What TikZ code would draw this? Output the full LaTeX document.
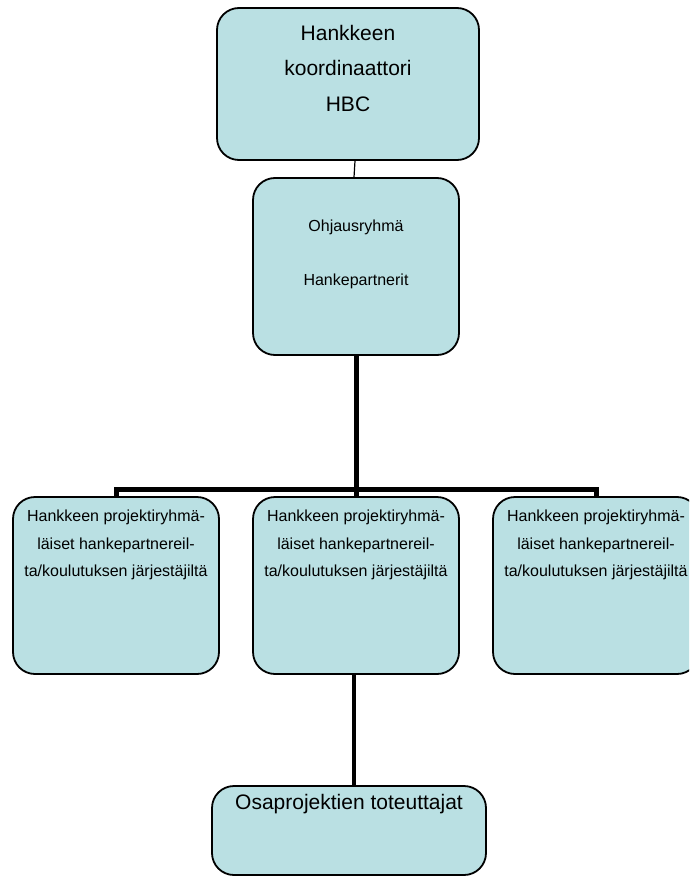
\documentclass[tikz,border=0pt]{standalone}
\usepackage{fontspec}
\setmainfont{Liberation Sans}
\definecolor{boxfill}{RGB}{186,224,227}
\begin{document}
\begin{tikzpicture}[x=1pt,y=-1pt,
  orgbox/.style={draw=black, line width=1.8pt, fill=boxfill, rounded corners=22pt, inner sep=0pt},
  bigtext/.style={align=center, font=\fontsize{21}{35.5}\selectfont},
  smalltext/.style={align=center, font=\fontsize{16}{27.5}\selectfont},
  busline/.style={line width=5pt, line join=miter},
  midline/.style={line width=3.5pt},
  thinline/.style={line width=1.2pt}]
\useasboundingbox (0,0) rectangle (689,877);
\clip (0,0) rectangle (689,877);

% boxes
\node[orgbox, minimum width=262pt, minimum height=152pt] (hbc) at (348,84) {};
\node[orgbox, minimum width=206pt, minimum height=177pt] (ohj) at (356,266.5) {};
\node[orgbox, minimum width=206pt, minimum height=177pt] (projL) at (116,585.5) {};
\node[orgbox, minimum width=206pt, minimum height=177pt] (projM) at (356,585.5) {};
\node[orgbox, minimum width=206pt, minimum height=177pt] (projR) at (596,585.5) {};
\node[orgbox, minimum width=274pt, minimum height=89pt] (osa) at (349,830.5) {};

% texts
\node[bigtext] (hbcText) at (348,68) {Hankkeen\\koordinaattori\\HBC};
\node[smalltext, font=\fontsize{16}{54}\selectfont] (ohjText) at (356,254) {Ohjausryhmä\\Hankepartnerit};
\node[smalltext] (projLText) at (116,545) {Hankkeen projektiryhmä-\\läiset hankepartnereil-\\ta/koulutuksen järjestäjiltä};
\node[smalltext] (projMText) at (356,545) {Hankkeen projektiryhmä-\\läiset hankepartnereil-\\ta/koulutuksen järjestäjiltä};
\node[smalltext] (projRText) at (596,545) {Hankkeen projektiryhmä-\\läiset hankepartnereil-\\ta/koulutuksen järjestäjiltä};
\node[bigtext] (osaText) at (349,804) {Osaprojektien toteuttajat};

% connectors
\coordinate (bus) at (356,489);
\draw[thinline] ([xshift=7pt]hbc.south) -- ([xshift=-2pt]ohj.north);
\draw[busline] (ohj.south) -- (bus);
\draw[busline] (projL.north) |- (bus) -| (projR.north);
\draw[busline] (bus) -- (projM.north);
\draw[midline] ([xshift=-2pt]projM.south) -- ([xshift=-2pt]projM.south |- osa.north);
\end{tikzpicture}
\end{document}
